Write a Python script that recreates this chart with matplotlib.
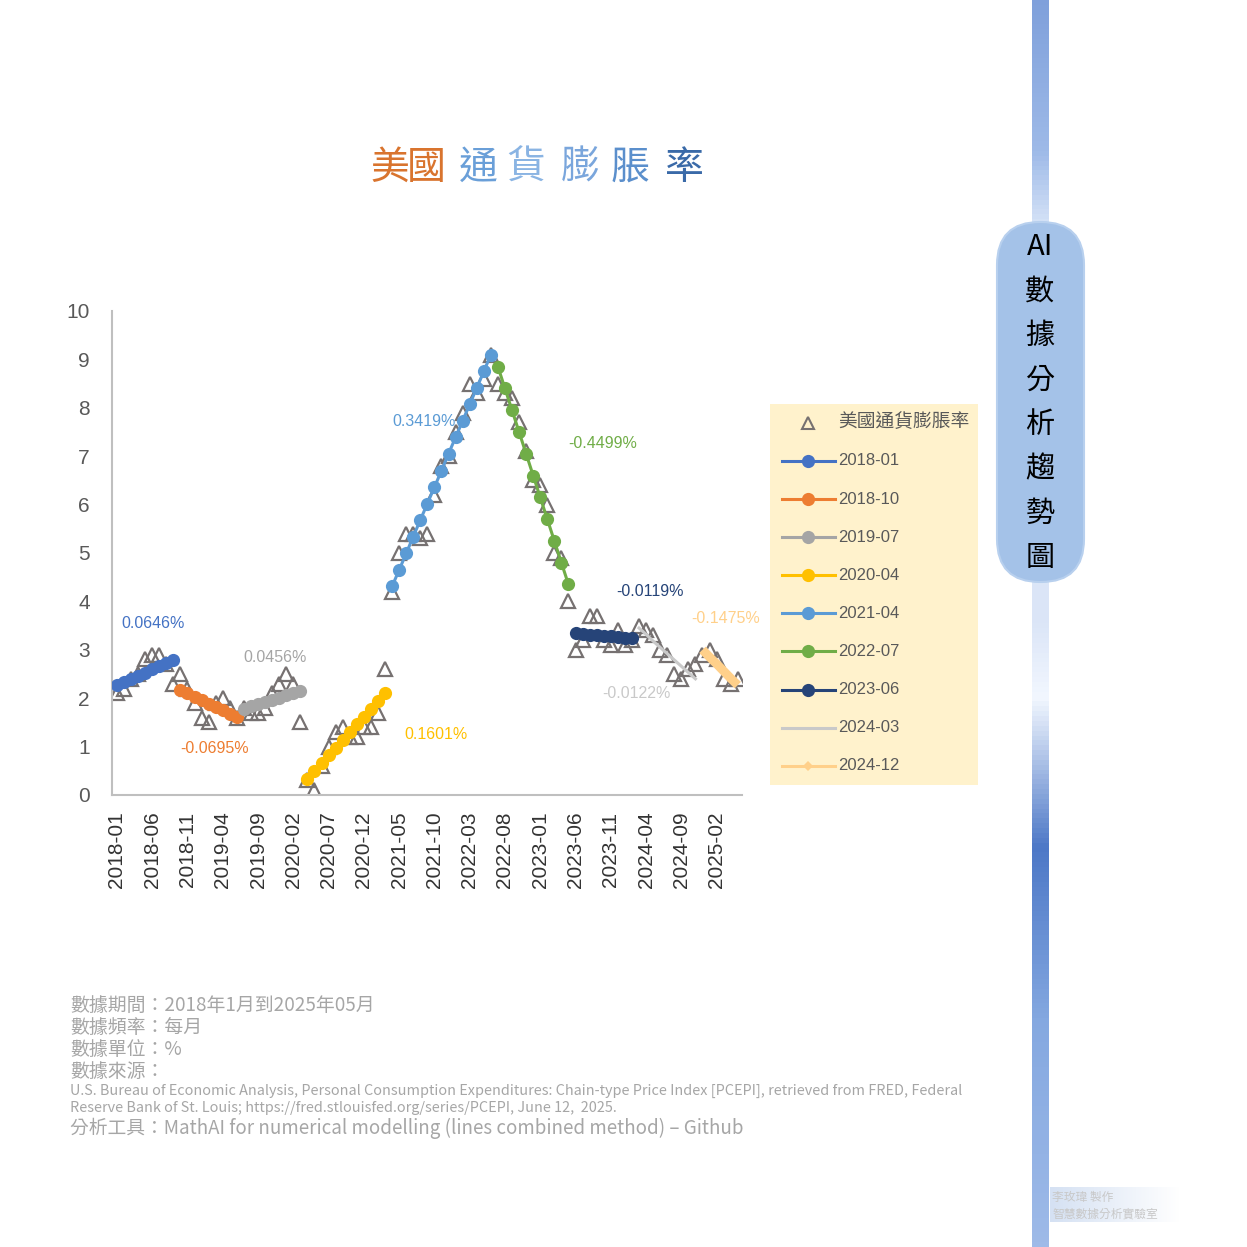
import numpy as np
import pandas as pd
import matplotlib
matplotlib.use('Agg')
import matplotlib.pyplot as plt
from matplotlib.colors import LinearSegmentedColormap
from matplotlib.patches import FancyBboxPatch

### Data
months = pd.period_range('2018-01', '2025-05', freq='M').strftime('%Y-%m').tolist()

# 美國通貨膨脹率 (monthly, %)
inflation = [2.1, 2.2, 2.4, 2.5, 2.8, 2.9, 2.9, 2.7, 2.3, 2.5, 2.2, 1.9,
             1.6, 1.5, 1.9, 2.0, 1.8, 1.6, 1.8, 1.7, 1.7, 1.8, 2.1, 2.3,
             2.5, 2.3, 1.5, 0.3, 0.1, 0.6, 1.0, 1.3, 1.4, 1.2, 1.2, 1.4,
             1.4, 1.7, 2.6, 4.2, 5.0, 5.4, 5.4, 5.3, 5.4, 6.2, 6.8, 7.0,
             7.5, 7.9, 8.5, 8.3, 8.6, 9.1, 8.5, 8.3, 8.2, 7.7, 7.1, 6.5,
             6.4, 6.0, 5.0, 4.9, 4.0, 3.0, 3.2, 3.7, 3.7, 3.2, 3.1, 3.4,
             3.1, 3.2, 3.5, 3.4, 3.3, 3.0, 2.9, 2.5, 2.4, 2.6, 2.7, 2.9,
             3.0, 2.8, 2.4, 2.3, 2.4]

# fitted line segments, named by start month
seg_start = ['2018-01', '2018-10', '2019-07', '2020-04', '2021-04',
             '2022-07', '2023-06', '2024-03', '2024-12']
seg_values = [
    [2.27, 2.33, 2.40, 2.46, 2.53, 2.60, 2.66, 2.73, 2.79],
    [2.17, 2.10, 2.03, 1.96, 1.89, 1.82, 1.75, 1.68, 1.61],
    [1.78, 1.83, 1.88, 1.92, 1.97, 2.01, 2.06, 2.10, 2.15],
    [0.34, 0.50, 0.66, 0.82, 0.98, 1.14, 1.30, 1.46, 1.62, 1.78, 1.94, 2.10],
    [4.31, 4.65, 4.99, 5.34, 5.68, 6.02, 6.36, 6.70, 7.05, 7.39, 7.73, 8.07,
     8.41, 8.75, 9.10],
    [8.85, 8.40, 7.95, 7.50, 7.05, 6.60, 6.15, 5.70, 5.25, 4.80, 4.35],
    [3.34, 3.32, 3.31, 3.30, 3.29, 3.28, 3.27, 3.25, 3.24],
    [3.45, 3.32, 3.18, 3.05, 2.92, 2.79, 2.66, 2.53, 2.40],
    [3.00, 2.85, 2.71, 2.56, 2.41, 2.27],
]
seg_slope = ['0.0646%', '-0.0695%', '0.0456%', '0.1601%', '0.3419%',
             '-0.4499%', '-0.0119%', '-0.0122%', '-0.1475%']
# where each slope label sits (month index, value)
slope_pos = [(5.1, 3.55), (13.9, 0.97), (22.4, 2.85), (45.2, 1.26), (43.6, 7.71),
             (68.8, 7.27), (75.6, 4.21), (73.7, 2.09), (86.3, 3.64)]

seg_colors = ['#4472c4', '#ed7d31', '#a5a5a5', '#ffc000', '#5b9bd5',
              '#70ad47', '#264478', '#c9c9c9', '#ffd08a']

CJK = ['Noto Sans CJK TC', 'DejaVu Sans']

### Figure
W = 1247
fig = plt.figure(figsize=(12.47, 12.47), dpi=100)

# background / decoration layer in pixel coordinates
bg = fig.add_axes([0, 0, 1, 1], zorder=0)
bg.axis('off')

# vertical gradient bar on the right
bar_cmap = LinearSegmentedColormap.from_list('bar', [
    (0.00, (0.50, 0.63, 0.86)),
    (0.12, (0.62, 0.73, 0.91)),
    (0.19, (0.88, 0.92, 0.98)),
    (0.50, (0.86, 0.90, 0.97)),
    (0.56, (0.95, 0.97, 1.00)),
    (0.68, (0.30, 0.47, 0.78)),
    (0.82, (0.52, 0.66, 0.88)),
    (1.00, (0.62, 0.73, 0.91)),
])
grad = np.linspace(0, 1, 256).reshape(-1, 1)
bg.imshow(grad, cmap=bar_cmap, extent=[1032, 1049, W, 0], aspect='auto', zorder=1)

# watermark
wm = np.linspace(0, 1, 128).reshape(1, -1)
wm_cmap = LinearSegmentedColormap.from_list('wm', ['#d5e1f3', '#ffffff'])
bg.imshow(wm, cmap=wm_cmap, extent=[1050, 1180, 1222, 1187], aspect='auto', zorder=1)
bg.set_xlim(0, W)
bg.set_ylim(W, 0)
bg.text(1052, 1197, '李玫瑋 製作', fontsize=8.5, color='#c8c8c8', family=CJK, va='center', zorder=3)
bg.text(1052, 1214, '智慧數據分析實驗室', fontsize=8.5, color='#c8c8c8', family=CJK, va='center', zorder=3)

# pill with vertical title
pill = FancyBboxPatch((997, 222), 87, 360, boxstyle='round,pad=0,rounding_size=43',
                      fc='#a4c2e8', ec='#b8d0ee', lw=1.5, zorder=2)
bg.add_patch(pill)
side_chars = ['AI', '數', '據', '分', '析', '趨', '勢', '圖']
for k, ch in enumerate(side_chars):
    bg.text(1040, 247 + 44.5 * k, ch, fontsize=21, color='black', family=CJK,
            ha='center', va='center', zorder=3)

# title, one character at a time
title_chars = ['美', '國', '通', '貨', '膨', '脹', '率']
title_x = [390, 426, 478, 526, 580, 630, 684]
title_col = ['#d9742e', '#d9742e', '#6a9fd8', '#8ab4e3', '#7aa6dc', '#5b8fcc', '#3a6aa8']
for ch, x, c in zip(title_chars, title_x, title_col):
    bg.text(x, 168, ch, fontsize=28, color=c, family=CJK, ha='center', va='center')

### Main chart
ax = fig.add_axes([112 / W, 1 - 795 / W, 630 / W, 484 / W], zorder=1)
ax.set_facecolor('none')
x_all = np.arange(len(months))
ax.plot(x_all, inflation, linestyle='none', marker='^', markersize=9.5,
        mfc='none', mec='#767171', mew=1.6, zorder=2)

for name, vals, col in zip(seg_start, seg_values, seg_colors):
    i0 = months.index(name)
    xs = np.arange(i0, i0 + len(vals))
    if name == '2024-03':
        ax.plot(xs, vals, color=col, lw=2.2, zorder=3)
    elif name == '2024-12':
        ax.plot(xs, vals, color=col, lw=6.5, solid_capstyle='butt', zorder=3)
    else:
        ax.plot(xs, vals, color=col, lw=2.2, marker='o', markersize=9.5,
                mew=0, zorder=3)

for txt, (px, py), col in zip(seg_slope, slope_pos, seg_colors):
    ax.text(px, py, txt, color=col, fontsize=11.5, family='Liberation Sans',
            ha='center', va='center', zorder=4)

ax.set_xlim(-0.7, 88.6)
ax.set_ylim(0, 10)
ax.set_yticks(range(0, 11))
ax.set_xticks(x_all[::5])
ax.set_xticklabels(months[::5], rotation=90, fontsize=15, family='Liberation Sans',
                   color='#333333')
for lab in ax.get_yticklabels():
    lab.set_family('Liberation Sans')
    lab.set_fontsize(15)
    lab.set_color('#595959')
ax.tick_params(axis='both', length=0)
ax.tick_params(axis='x', pad=12)
ax.tick_params(axis='y', pad=16)
for s in ['top', 'right']:
    ax.spines[s].set_visible(False)
for s in ['left', 'bottom']:
    ax.spines[s].set_color('#bfbfbf')
    ax.spines[s].set_linewidth(1.5)

### Legend panel
lg = fig.add_axes([770 / W, 1 - 785 / W, 208 / W, 381 / W], zorder=1)
lg.set_facecolor('#fff2cc')
lg.set_xlim(770, 978)
lg.set_ylim(785, 404)
lg.set_xticks([])
lg.set_yticks([])
for s in lg.spines.values():
    s.set_visible(False)
lg.plot([808], [423], marker='^', markersize=8, mfc='none', mec='#767171', mew=1.5)
lg.text(838, 422, '美國通貨膨脹率', fontsize=13.5, color='#595959', family=CJK, va='center')
for k, (name, col) in enumerate(zip(seg_start, seg_colors)):
    y = 461 + 38.1 * k
    lg.plot([782, 835], [y, y], color=col, lw=2.2)
    if name == '2024-12':
        lg.plot([808], [y], marker='D', markersize=5, color=col, mew=0)
    elif name != '2024-03':
        lg.plot([808], [y], marker='o', markersize=9.5, color=col, mew=0)
    lg.text(838, y, name, fontsize=12, color='#595959', family='Liberation Sans', va='center')

### Footer notes
foot = '#a6a6a6'
notes = ['數據期間：2018年1月到2025年05月', '數據頻率：每月', '數據單位：%', '數據來源：']
for k, t in enumerate(notes):
    fig.text(70 / W, 1 - (1005 + 22.3 * k) / W, t, fontsize=13.6, color=foot, family=CJK, va='center')
fig.text(70 / W, 1 - 1091 / W,
         'U.S. Bureau of Economic Analysis, Personal Consumption Expenditures: Chain-type Price Index [PCEPI], retrieved from FRED, Federal',
         fontsize=10.4, color=foot, family=CJK, va='center')
fig.text(70 / W, 1 - 1108 / W,
         'Reserve Bank of St. Louis; https://fred.stlouisfed.org/series/PCEPI, June 12,  2025.',
         fontsize=10.4, color=foot, family=CJK, va='center')
fig.text(70 / W, 1 - 1128 / W,
         '分析工具：MathAI for numerical modelling (lines combined method) – Github',
         fontsize=13.5, color=foot, family=CJK, va='center')

fig.savefig('out.png', dpi=100, facecolor='white')
